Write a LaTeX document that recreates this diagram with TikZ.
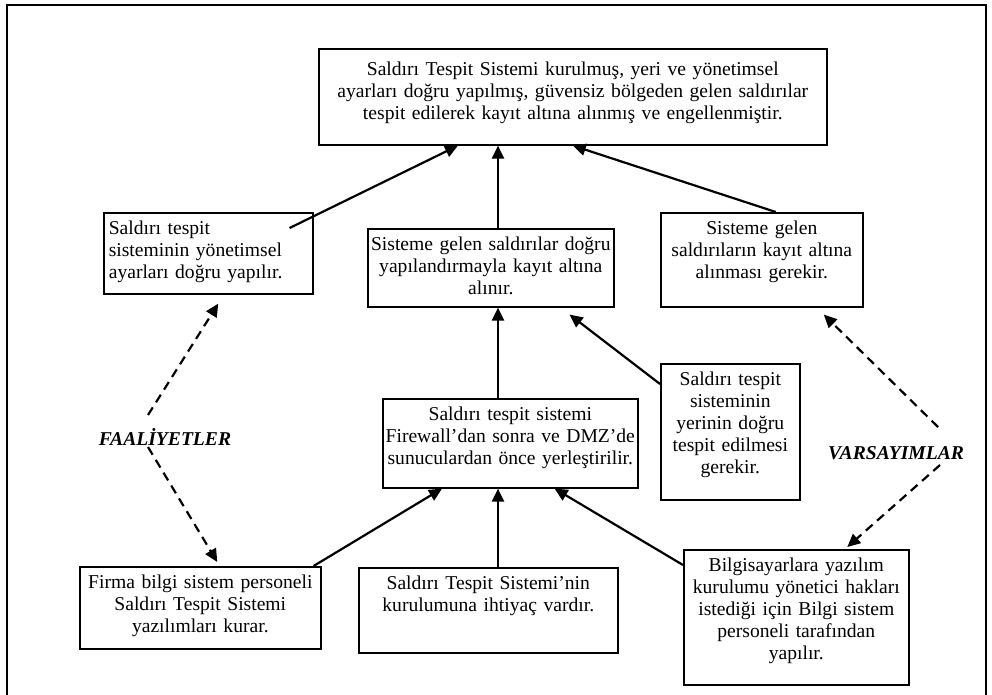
\documentclass[tikz,border=0pt]{standalone}
\usepackage{fontspec}
\setmainfont{Liberation Serif}
\usetikzlibrary{arrows.meta, positioning, calc}
\tikzset{
  every picture/.style={line width=1.6pt},
  box/.style={draw, line width=1.6pt, anchor=north west, align=center, inner xsep=0pt, inner ysep=0pt, text height=22pt, font=\fontsize{19.6}{21.8}\selectfont},
  arrow/.style={-{Triangle[length=13pt, width=12pt]}, line width=2.2pt},
  dasharrow/.style={arrow, dash pattern=on 9pt off 6pt},
  tag/.style={font=\fontsize{19.6}{21.8}\selectfont\bfseries\itshape},
}
\begin{document}
\begin{tikzpicture}[x=1pt, y=-1pt]
  \useasboundingbox (0,0) rectangle (992,695);
  \draw (7,695) -- (7,5) -- (986,5) -- (986,695);
  % boxes
  \node[box, text width=508pt, text height=27pt, text depth=69pt] (goal) at (318,48) {Saldırı Tespit Sistemi kurulmuş, yeri ve yönetimsel\\ayarları doğru yapılmış, güvensiz bölgeden gelen saldırılar\\tespit edilerek kayıt altına alınmış ve engellenmiştir.};
  \node[box, align=left, inner xsep=5pt, text width=199pt, text depth=59pt] (ayar) at (103,212) {Saldırı tespit\\sisteminin yönetimsel\\ayarları doğru yapılır.};
  \node[box, text width=246pt, text depth=56pt] (kayit) at (367,228) {Sisteme gelen saldırılar doğru\\yapılandırmayla kayıt altına\\alınır.};
  \node[box, text width=202pt, text depth=72pt] (varkayit) at (660,212) {Sisteme gelen\\saldırıların kayıt altına\\alınması gerekir.};
  \node[box, text width=139pt, text depth=114pt] (yer) at (660,363) {Saldırı tespit\\sisteminin\\yerinin doğru\\tespit edilmesi\\gerekir.};
  \node[box, text width=255pt, text depth=67pt] (yerlesim) at (382,398) {Saldırı tespit sistemi\\Firewall’dan sonra ve DMZ’de\\sunuculardan önce yerleştirilir.};
  \node[box, text width=241pt, text depth=60pt] (kurar) at (79,566) {Firma bilgi sistem personeli\\Saldırı Tespit Sistemi\\yazılımları kurar.};
  \node[box, text width=259pt, text depth=63pt] (ihtiyac) at (358,567) {Saldırı Tespit Sistemi’nin\\kurulumuna ihtiyaç vardır.};
  \node[box, text width=225pt, text depth=113pt] (hak) at (683,549) {Bilgisayarlara yazılım\\kurulumu yönetici hakları\\istediği için Bilgi sistem\\personeli tarafından\\yapılır.};
  % side labels
  \node[tag] (faal) at (165,437) {FAALİYETLER};
  \node[tag] (vars) at (896,453) {VARSAYIMLAR};
  % links
  \coordinate (axis) at (498,0);
  \foreach \a/\b in {kayit/goal, yerlesim/kayit, ihtiyac/yerlesim}
    \draw[arrow] (\a.north -| axis) -- (\b.south -| axis);
  \draw[arrow] ($(ayar.north east)+(-24,16)$) -- ($(goal.south west)+(140,0)$);
  \draw[arrow] ($(varkayit.north)+(14,0)$) -- (goal.south);
  \draw[arrow] ($(yer.north west)+(0,21)$) -- ($(kayit.south east)+(-45,7)$);
  \draw[arrow] ($(kurar.north east)+(-8,0)$) -- ($(yerlesim.south west)+(60,0)$);
  \draw[arrow] ($(hak.north west)+(0,16)$) -- ($(yerlesim.south east)+(-84,0)$);
  \draw[dasharrow] ($(faal.center)+(-17,-22)$) -- ($(ayar.south)+(10,9)$);
  \draw[dasharrow] ($(faal.center)+(-17,10)$) -- ($(kurar.north)+(17,-4)$);
  \draw[dasharrow] ($(vars.center)+(42,-26)$) -- ($(varkayit.south)+(62,7)$);
  \draw[dasharrow] ($(vars.center)+(44,12)$) -- ($(hak.north)+(51,-2)$);
\end{tikzpicture}
\end{document}
